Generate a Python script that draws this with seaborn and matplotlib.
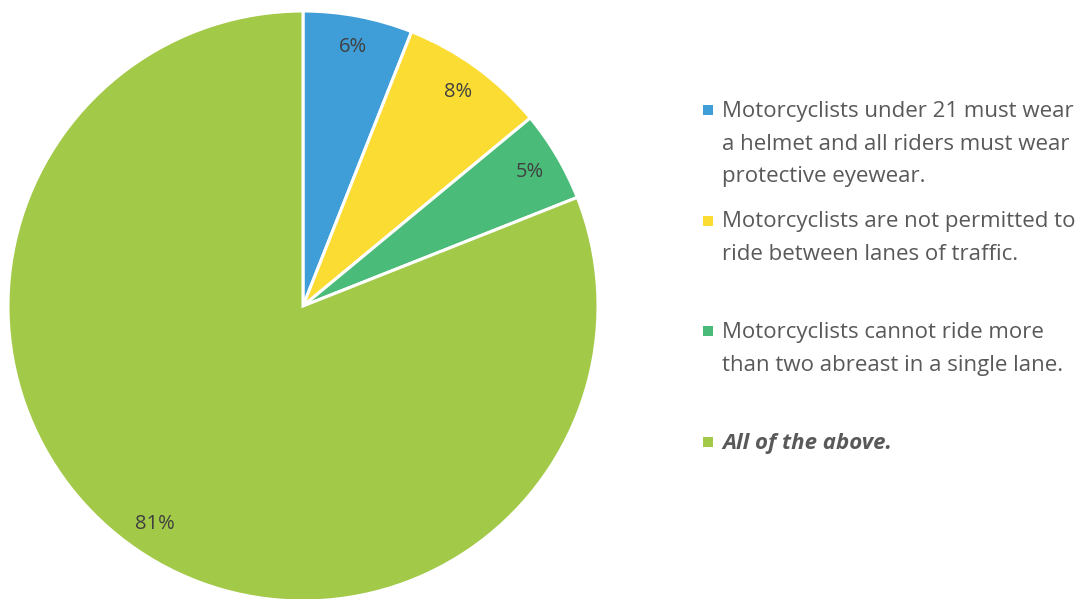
import matplotlib.pyplot as plt
import seaborn as sns
from matplotlib.patches import Rectangle

# data
labels = [
    "Motorcyclists under 21 must wear\na helmet and all riders must wear\nprotective eyewear.",
    "Motorcyclists are not permitted to\nride between lanes of traffic.",
    "Motorcyclists cannot ride more\nthan two abreast in a single lane.",
    "All of the above.",
]
values = [6, 8, 5, 81]
colors = ["#3F9ED8", "#FBDC33", "#4BBB79", "#A2C948"]

sns.set_theme(style="white")
plt.rcParams['font.family'] = ['Open Sans', 'DejaVu Sans']

fig = plt.figure(figsize=(10.9, 5.99), dpi=100)
W, H = 1090, 599
cx, cy, r = 303, 306, 295
ax = fig.add_axes([(cx - r) / W, (H - cy - r) / H, 2 * r / W, 2 * r / H])

wedges, texts = ax.pie(
    values, colors=colors, startangle=90, counterclock=False, radius=1,
    labels=[f"{v}%" for v in values], labeldistance=0.895,
    wedgeprops=dict(edgecolor="white", linewidth=2.2),
    textprops=dict(fontsize=14.5, color="#404040", ha="center", va="center"),
)
ax.set_xlim(-1, 1)
ax.set_ylim(-1, 1)
ax.set_aspect("auto")
ax.axis("off")

# legend, drawn by hand so entries get equal slots
y0, step = 110, 110.5
for i, (lab, col) in enumerate(zip(labels, colors)):
    y = y0 + i * step
    fig.add_artist(Rectangle((703 / W, 1 - (y + 5) / H), 10 / W, 10 / H,
                             transform=fig.transFigure, facecolor=col, edgecolor="none"))
    last = i == len(labels) - 1
    fig.text(722 / W, 1 - (y - 9) / H, lab, fontsize=16, color="#595959",
             ha="left", va="top", linespacing=1.72,
             fontweight="bold" if last else "normal",
             fontstyle="italic" if last else "normal")

fig.savefig("out.png", dpi=100)
